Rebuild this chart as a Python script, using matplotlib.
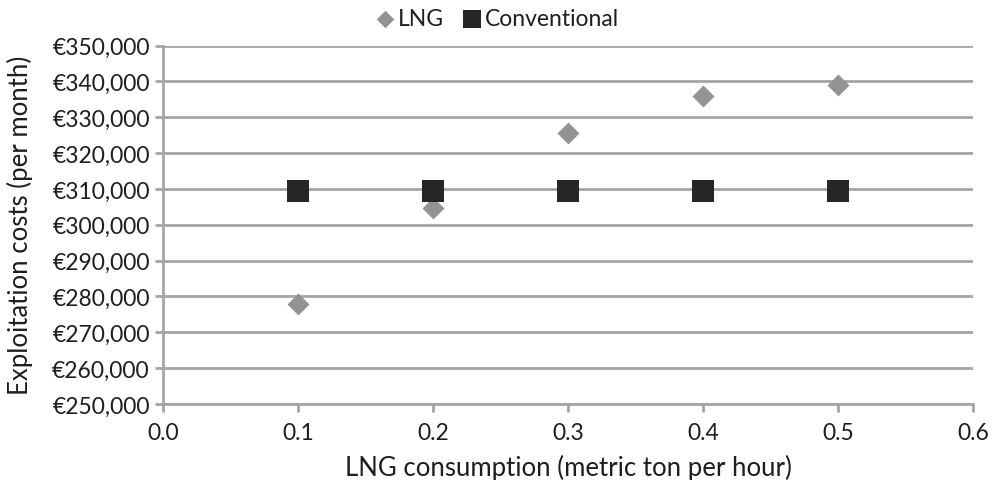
import matplotlib.pyplot as plt
from matplotlib.ticker import FuncFormatter

plt.rcParams['font.family'] = ['Lato', 'DejaVu Sans']

# LNG consumption (metric ton per hour)
consumption = [0.1, 0.2, 0.3, 0.4, 0.5]
# monthly exploitation costs in euro
lng_costs = [278000, 304800, 325500, 335900, 338900]
conventional_costs = [309400, 309400, 309400, 309400, 309400]

grid_gray = '#a3a5a8'
text_col = '#1e1e1e'

fig = plt.figure(figsize=(9.97, 4.81), dpi=100)
ax = fig.add_axes([0.1635, 0.158, 0.8125, 0.745])

ax.scatter(consumption, lng_costs, marker='D', s=125, color='#939393',
           label='LNG', zorder=3, linewidths=0)
ax.scatter(consumption, conventional_costs, marker='s', s=250, color='#262626',
           label='Conventional', zorder=3, linewidths=0)

ax.set_xlim(0, 0.6)
ax.set_ylim(250000, 350000)
ax.set_xticks([0.0, 0.1, 0.2, 0.3, 0.4, 0.5, 0.6])
ax.set_yticks(range(250000, 350001, 10000))
ax.xaxis.set_major_formatter(FuncFormatter(lambda v, p: f'{v:.1f}'))
ax.yaxis.set_major_formatter(FuncFormatter(lambda v, p: f'€{int(v):,}'))

ax.grid(axis='y', color=grid_gray, linewidth=2, zorder=0)
ax.set_axisbelow(True)
for side in ['top', 'right']:
    ax.spines[side].set_visible(False)
for side in ['left', 'bottom']:
    ax.spines[side].set_color(grid_gray)
    ax.spines[side].set_linewidth(2)
ax.tick_params(axis='both', colors=grid_gray, width=2, length=6,
               labelsize=16.5, labelcolor=text_col)
ax.tick_params(axis='x', pad=7)

ax.set_xlabel('LNG consumption (metric ton per hour)', fontsize=18.5,
              color=text_col, labelpad=8)
ax.set_ylabel('Exploitation costs (per month)', fontsize=18.5,
              color=text_col, labelpad=14)

leg = fig.legend(loc='upper center', bbox_to_anchor=(0.497, 1.025), ncol=2,
                 frameon=False, fontsize=16.5, handletextpad=0.0,
                 columnspacing=0.7, handlelength=1.1, labelcolor=text_col)
leg.legend_handles[0].set_sizes([80])
leg.legend_handles[1].set_sizes([170])

fig.savefig('out.png', dpi=100)
